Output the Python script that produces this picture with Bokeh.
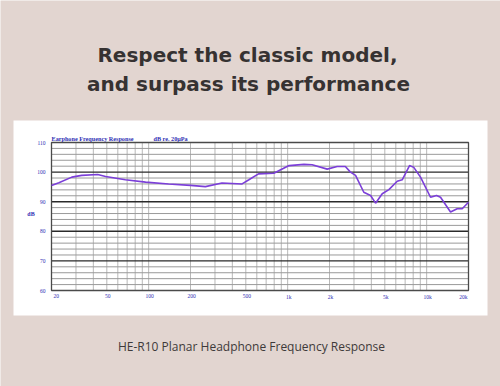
import math
from bokeh.plotting import figure
from bokeh.models import Range1d, LogScale, LinearScale
from bokeh.core.properties import value
from bokeh.embed import file_html
from bokeh.resources import INLINE

# ---- data ----
freq_hz = [20, 22.6, 28, 33, 43, 49, 68, 95, 139, 200, 256, 337, 470, 526, 617,
           795, 1024, 1310, 1500, 1925, 2270, 2600, 2830, 3080, 3530, 3950, 4290,
           4790, 5350, 6140, 6670, 7530, 8080, 9030, 10660, 11780, 12580, 14850,
           16580, 18020, 20000]
response_db = [95.5, 96.4, 98.3, 98.9, 99.2, 98.5, 97.4, 96.6, 96.0, 95.5, 95.1,
               96.3, 96.0, 97.4, 99.4, 99.6, 102.2, 102.6, 102.5, 101.0, 101.9,
               101.9, 100.0, 98.9, 93.2, 92.1, 89.5, 92.7, 94.1, 96.9, 97.4, 102.2,
               101.6, 98.3, 91.5, 92.1, 91.5, 86.5, 87.6, 87.6, 89.8]

x_label_ticks = [20, 50, 100, 200, 500, 1000, 2000, 5000, 10000, 20000]
x_label_texts = ["20", "50", "100", "200", "500", "1k", "2k", "5k", "10k", "20k"]
x_grid_ticks = [30, 40, 50, 60, 70, 80, 90, 100, 200, 300, 400, 500, 600, 700,
                800, 900, 1000, 2000, 3000, 4000, 5000, 6000, 7000, 8000, 9000,
                10000]
y_label_ticks = [60, 70, 80, 90, 100, 110]
y_label_texts = ["60", "70", "80", "90", "100", "110"]
y_minor_ticks = [t for t in range(62, 110, 2) if t % 10 != 0]
y_major_ticks = [70, 80, 90, 100]
f_min, f_max = 20, 20000
db_min, db_max = 60, 110

headline = ["Respect the classic model,", "and surpass its performance"]
caption = "HE-R10 Planar Headphone Frequency Response"
chart_title = "Earphone Frequency Response"
chart_ref = "dB re. 20\u03bcPa"

# ---- layout (pixels on the 500x386 canvas) ----
W, H = 500, 386
box_l, box_r, box_t, box_b = 51, 468, 142, 290      # plot box
BG = "#e2d5d0"
BLUE = "#2f2fb4"
SERIF = "Liberation Serif"

# extra ranges so that the chart's data land in the plot box
dec = (box_r - box_l) / (math.log10(f_max) - math.log10(f_min))
f_lo = 10 ** (math.log10(f_min) - box_l / dec)
f_hi = 10 ** (math.log10(f_max) + (W - box_r) / dec)
pdb = (box_b - box_t) / (db_max - db_min)
db_hi = db_max + box_t / pdb
db_lo = db_min - (H - box_b) / pdb

p = figure(width=W, height=H, x_range=Range1d(0, W), y_range=Range1d(H, 0),
           output_backend="svg", toolbar_location=None, title=None,
           x_axis_location=None, y_axis_location=None, min_border=0)
p.min_border_left = p.min_border_right = p.min_border_top = p.min_border_bottom = 0
p.grid.visible = False
p.outline_line_color = None
p.background_fill_color = BG
p.border_fill_color = BG
p.extra_x_ranges = {"f": Range1d(f_lo, f_hi)}
p.extra_x_scales = {"f": LogScale()}
p.extra_y_ranges = {"db": Range1d(db_lo, db_hi)}
p.extra_y_scales = {"db": LinearScale()}
C = dict(x_range_name="f", y_range_name="db")

# white panel
p.quad(left=[13], right=[487], top=[120], bottom=[315], fill_color="white",
       line_color=None)

# grid
p.segment(x0=x_grid_ticks, x1=x_grid_ticks, y0=[db_min] * len(x_grid_ticks),
          y1=[db_max] * len(x_grid_ticks), line_color="#b8b8b8", line_width=1, **C)
p.segment(x0=[f_min] * len(y_minor_ticks), x1=[f_max] * len(y_minor_ticks),
          y0=y_minor_ticks, y1=y_minor_ticks, line_color="#9a9a9a", line_width=1, **C)
p.segment(x0=[f_min] * len(y_major_ticks), x1=[f_max] * len(y_major_ticks),
          y0=y_major_ticks, y1=y_major_ticks, line_color="#2a2a2a", line_width=1.4, **C)
# plot box outline
p.quad(left=[f_min], right=[f_max], bottom=[db_min], top=[db_max],
       fill_color=None, line_color="#4a4a4a", line_width=1.3, **C)

# response curve
p.line(freq_hz, response_db, line_color="#7b3fd8", line_width=1.6, **C)

# tick labels
tick_style = dict(text_font=value(SERIF), text_font_size=value("5.5px"),
                  text_color=BLUE)
p.text(x=x_label_ticks[:1], y=[db_min], text=x_label_texts[:1], text_align="left",
       text_baseline="top", y_offset=3, x_offset=2, **tick_style, **C)
p.text(x=x_label_ticks[1:-1], y=[db_min] * (len(x_label_ticks) - 2),
       text=x_label_texts[1:-1], text_align="center", text_baseline="top",
       y_offset=3, x_offset=1, **tick_style, **C)
p.text(x=x_label_ticks[-1:], y=[db_min], text=x_label_texts[-1:], text_align="right",
       text_baseline="top", y_offset=3, x_offset=-1, **tick_style, **C)
p.text(x=[f_min] * len(y_label_ticks), y=y_label_ticks, text=y_label_texts,
       text_align="right", text_baseline="middle", x_offset=-6, **tick_style, **C)

# chart texts
chart_txt = dict(text_font=value(SERIF), text_font_size=value("6.2px"),
                 text_font_style="bold", text_color=BLUE, text_baseline="alphabetic")
p.text(x=[51, 153], y=[138, 138], text=[chart_title, chart_ref], **chart_txt)
p.text(x=[30.5], y=[213], text=["dB"], text_align="center", text_baseline="middle",
       text_font=value(SERIF), text_font_size=value("6px"), text_font_style="bold",
       text_color=BLUE)

# headline and caption
p.text(x=[247, 248], y=[54, 83], text=headline, text_font=value("DejaVu Sans"),
       text_font_size=value("20px"), text_font_style="bold", text_color="#363232",
       text_align="center", text_baseline="alphabetic")
p.text(x=[251], y=[346], text=[caption], text_font=value("Open Sans"),
       text_font_size=value("12px"), text_color="#3e3a3a", text_align="center",
       text_baseline="alphabetic")

open("out.html", "w").write(file_html(p, INLINE))
